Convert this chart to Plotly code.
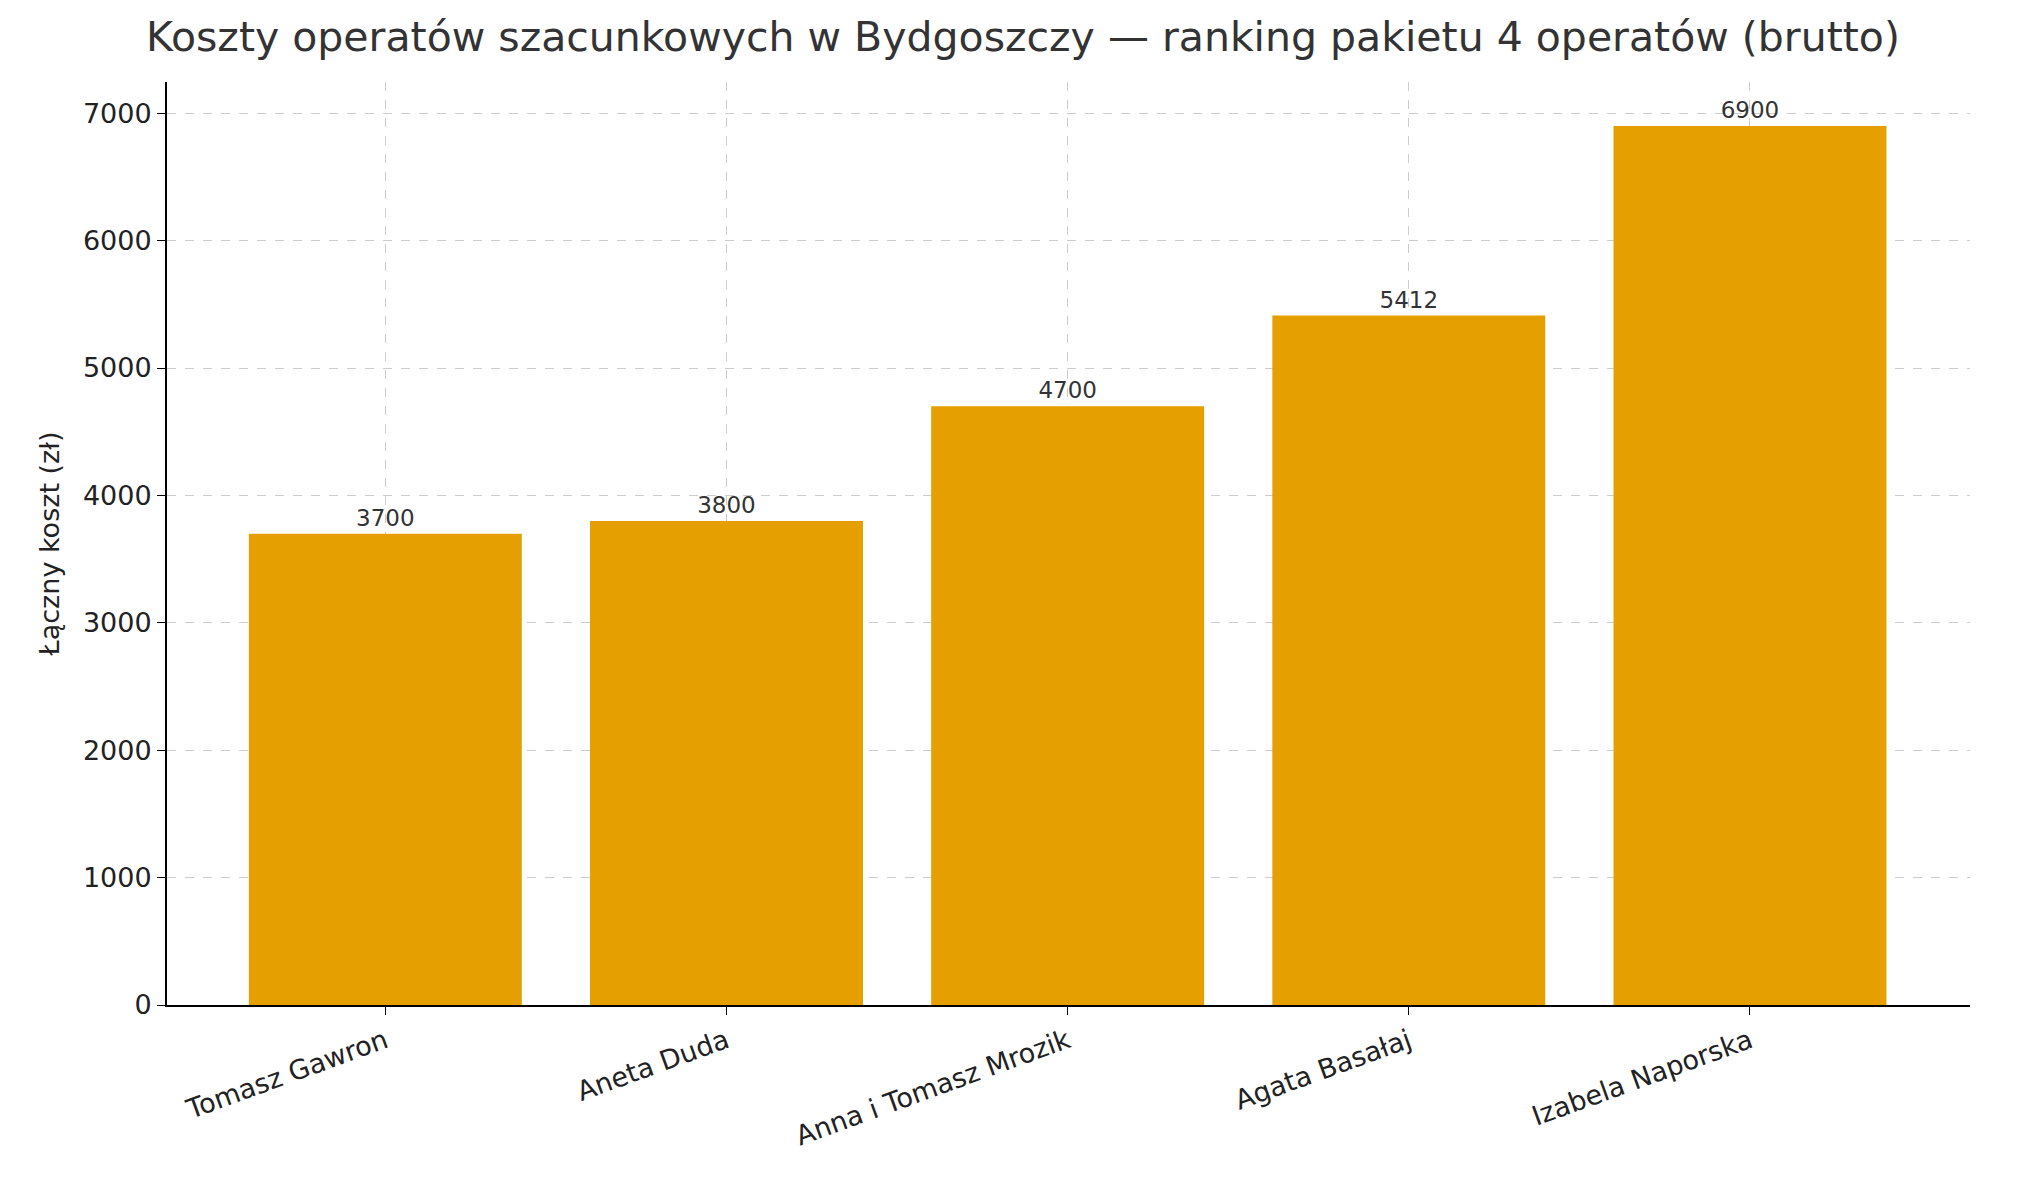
import plotly.graph_objects as go

# data
names = ["Tomasz Gawron", "Aneta Duda", "Anna i Tomasz Mrozik", "Agata Basałaj", "Izabela Naporska"]
costs = [3700, 3800, 4700, 5412, 6900]

bar_color = "#E69F00"
font = "DejaVu Sans"

fig = go.Figure(
    go.Bar(
        x=names,
        y=costs,
        width=0.8,
        marker=dict(color=bar_color, line=dict(width=0)),
        text=[str(c) for c in costs],
        textposition="outside",
        textfont=dict(family=font, size=23, color="#333333"),
        cliponaxis=False,
    )
)

fig.update_layout(
    width=2030,
    height=1180,
    paper_bgcolor="white",
    plot_bgcolor="white",
    font=dict(family=font, color="#222222"),
    title=dict(
        text="Koszty operatów szacunkowych w Bydgoszczy — ranking pakietu 4 operatów (brutto)",
        x=0.5, xanchor="center", y=0.988, yanchor="top",
        font=dict(family=font, size=41, color="#333333"),
    ),
    margin=dict(l=159, r=68, t=74, b=183),
    showlegend=False,
    bargap=0.2,
)

fig.update_xaxes(
    range=[-0.64, 4.645],
    tickangle=-20,
    tickfont=dict(family=font, size=27),
    showgrid=True, gridcolor="#cccccc", griddash="dash", gridwidth=1,
    showline=True, linecolor="black", linewidth=2,
    ticks="outside", ticklen=8, tickcolor="black",
)
fig.update_yaxes(
    range=[0, 7245],
    tickvals=[0, 1000, 2000, 3000, 4000, 5000, 6000, 7000],
    tickfont=dict(family=font, size=27),
    title=dict(text="Łączny koszt (zł)", font=dict(family=font, size=27)),
    showgrid=True, gridcolor="#cccccc", griddash="dash", gridwidth=1,
    zeroline=False,
    showline=True, linecolor="black", linewidth=2,
    ticks="outside", ticklen=8, tickcolor="black",
)

fig.write_html("out.html")
